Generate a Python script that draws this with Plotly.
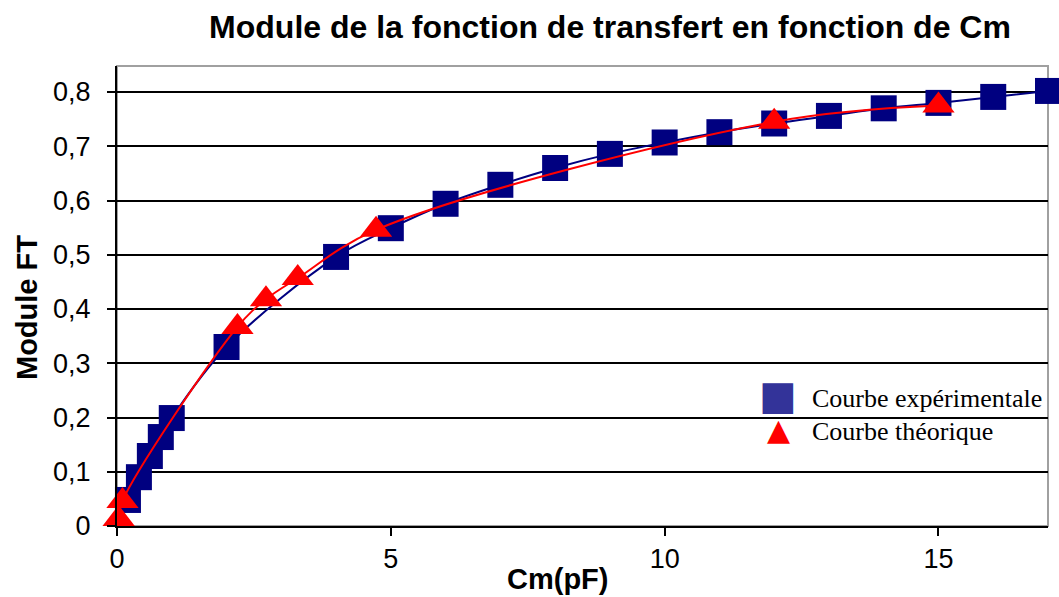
import plotly.graph_objects as go

# ---- data ----
exp_x = [0.2, 0.4, 0.6, 0.8, 1.0, 2, 4, 5, 6, 7, 8, 9, 10, 11, 12, 13, 14, 15, 16, 17]
exp_y = [0.048, 0.090, 0.129, 0.164, 0.199, 0.330, 0.496, 0.549, 0.594, 0.629,
         0.660, 0.686, 0.707, 0.726, 0.742, 0.756, 0.770, 0.780, 0.791, 0.802]

theo_x = [0.03, 0.1, 2.2, 2.72, 3.3, 4.73, 12, 15]
theo_y = [0.013, 0.046, 0.367, 0.418, 0.457, 0.546, 0.745, 0.775]

x_tickvals = [0, 5, 10, 15]
y_tickvals = [0, 0.1, 0.2, 0.3, 0.4, 0.5, 0.6, 0.7, 0.8]
y_ticktext = ["0", "0,1", "0,2", "0,3", "0,4", "0,5", "0,6", "0,7", "0,8"]

series_names = ["Courbe expérimentale", "Courbe théorique"]
title_text = "Module de la fonction de transfert en fonction de Cm"
x_title = "Cm(pF)"
y_title = "Module FT"

NAVY = "#000080"
LEG_BLUE = "#333399"
RED = "#ff0000"
SANS = "Liberation Sans, Arial, sans-serif"
SERIF = "Liberation Serif, Times New Roman, serif"

fig = go.Figure()
fig.add_trace(go.Scatter(
    x=exp_x, y=exp_y, name=series_names[0], mode="lines+markers",
    line=dict(color=NAVY, width=2, shape="spline"),
    marker=dict(symbol="square", size=26, color=NAVY, line=dict(width=0)),
    cliponaxis=False, showlegend=False))
fig.add_trace(go.Scatter(
    x=theo_x, y=theo_y, name=series_names[1], mode="lines+markers",
    line=dict(color=RED, width=2, shape="spline"),
    marker=dict(symbol="triangle-up", size=28, color=RED, line=dict(width=0)),
    cliponaxis=False, showlegend=False))

L, R, T, B = 117, 11, 66, 71
W, H = 1059, 597
pw, ph = W - L - R, H - T - B

def px_x(p):
    return (p - L) / pw

def px_y(p):
    return (H - B - p) / ph

annotations = [
    dict(text="<b>%s</b>" % x_title, x=px_x(557), y=px_y(579), xref="paper", yref="paper",
         xanchor="center", yanchor="middle", showarrow=False,
         font=dict(family=SANS, size=29, color="black")),
    dict(text="<b>%s</b>" % y_title, x=px_x(27), y=px_y(308), xref="paper", yref="paper",
         xanchor="center", yanchor="middle", showarrow=False, textangle=-90,
         font=dict(family=SANS, size=29, color="black")),
    # legend (drawn as text)
    dict(text="■", x=px_x(778), y=px_y(395), xref="paper", yref="paper",
         xanchor="center", yanchor="middle", showarrow=False,
         font=dict(family="DejaVu Sans", size=40, color=LEG_BLUE)),
    dict(text="▲", x=px_x(778), y=px_y(429), xref="paper", yref="paper",
         xanchor="center", yanchor="middle", showarrow=False,
         font=dict(family="DejaVu Sans", size=30, color=RED)),
    dict(text=series_names[0], x=px_x(810), y=px_y(398), xref="paper", yref="paper",
         xanchor="left", yanchor="middle", showarrow=False,
         font=dict(family=SERIF, size=26, color="black")),
    dict(text=series_names[1], x=px_x(810), y=px_y(431), xref="paper", yref="paper",
         xanchor="left", yanchor="middle", showarrow=False,
         font=dict(family=SERIF, size=26, color="black")),
]

fig.update_layout(
    width=W, height=H,
    margin=dict(l=L, r=R, t=T, b=B, pad=0),
    paper_bgcolor="white", plot_bgcolor="white",
    title=dict(text="<b>%s</b>" % title_text, x=610 / W, xanchor="center",
               y=1 - 27 / H, yanchor="middle",
               font=dict(family=SANS, size=32, color="black")),
    annotations=annotations,
    shapes=[dict(type="rect", xref="paper", yref="paper", x0=0, x1=1, y0=0, y1=1,
                 line=dict(color="#a0a0a0", width=2), layer="below")],
    xaxis=dict(range=[0, 17], tickvals=x_tickvals, ticks="outside", ticklen=8,
               tickwidth=1.5, tickcolor="black", showline=True, linecolor="black",
               linewidth=2, showgrid=False, zeroline=False, ticklabelstandoff=0,
               tickfont=dict(family=SANS, size=27, color="black")),
    yaxis=dict(range=[0, 0.848], tickvals=y_tickvals, ticktext=y_ticktext,
               ticks="outside", ticklen=8, tickwidth=1.5, tickcolor="black",
               showline=True, linecolor="black", linewidth=2, showgrid=True,
               gridcolor="black", gridwidth=1.5, zeroline=False, ticklabelstandoff=11,
               tickfont=dict(family=SANS, size=27, color="black")),
)

fig.write_html("out.html",
               config={"displayModeBar": False},
               post_script="document.body.style.margin='0';document.body.style.overflow='hidden';")
